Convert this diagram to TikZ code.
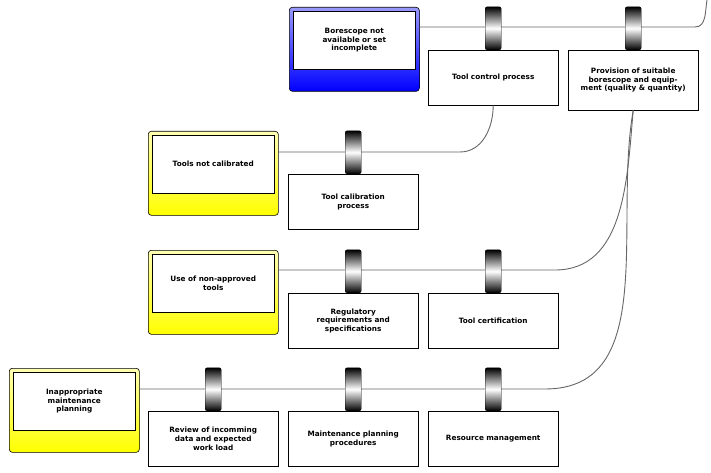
\documentclass[tikz,border=0pt]{standalone}
\usepackage{fontspec}
\setmainfont{DejaVu Sans}
\usetikzlibrary{positioning}

\begin{document}
\begin{tikzpicture}[
        x = 1pt, y = -1pt,
        font = \bfseries\fontsize{7.3}{8.6}\selectfont,
        threat/.style = {
            draw = black, rounded corners = 3pt, line width = 0.6pt,
            minimum width = 130pt, minimum height = 84pt,
            anchor = north west, inner sep = 0pt,
        },
        yellowthreat/.style = {threat, top color = yellow!30, bottom color = yellow},
        bluethreat/.style = {threat, top color = blue!40!white, bottom color = blue},
        label/.style = {
            draw, fill = white, align = center, text width = 112pt,
            minimum width = 122pt, minimum height = 58pt, inner sep = 1pt,
        },
        barrier/.style = {
            draw, fill = white, align = center, text width = 120pt,
            minimum width = 130pt, minimum height = 55pt,
            anchor = north west, inner sep = 1pt,
        },
        ring/.style = {
            draw, rounded corners = 2pt, minimum width = 16pt, minimum height = 43pt,
            top color = black, bottom color = black, middle color = white, inner sep = 0pt,
        },
        link/.style = {draw = gray!80!black, line width = 0.9pt},
        ]

        \useasboundingbox (0,0) rectangle (711,473);

        % Bedreigingen
        \node[bluethreat] (borescope) at (289,7) {};
        \node[label, below = 4pt of borescope.north] (borescope_txt) {Borescope not\\ available or set\\ incomplete};
        \node[yellowthreat] (calibrated) at (148,131) {};
        \node[label, below = 4pt of calibrated.north] (calibrated_txt) {Tools not calibrated};
        \node[yellowthreat] (nonapproved) at (148,250) {};
        \node[label, below = 4pt of nonapproved.north] (nonapproved_txt) {Use of non-approved\\ tools};
        \node[yellowthreat] (planning) at (9,368) {};
        \node[label, below = 4pt of planning.north] (planning_txt) {Inappropriate\\ maintenance\\ planning};

        % Barrieres
        \node[barrier] (toolcontrol) at (428,50) {Tool control process};
        \node[barrier, minimum height = 60pt] (provision) at (568,50) {Provision of suitable borescope and equipment (quality \& quantity)};
        \node[barrier] (toolcalib) at (288,174) {Tool calibration\\ process};
        \node[barrier] (regulatory) at (288,293) {Regulatory\\ requirements and\\ specifications};
        \node[barrier] (certification) at (428,293) {Tool certification};
        \node[barrier] (review) at (148,411) {Review of incomming\\ data and expected\\ work load};
        \node[barrier] (procedures) at (288,411) {Maintenance planning\\ procedures};
        \node[barrier] (resources) at (428,411) {Resource management};

        % Lijnen
        \coordinate (top_end) at (707,0);
        \path[link] (borescope.east |- 0,27) -- (695,27) to[out=0, in=-100] (top_end);
        \path[link] (calibrated.east |- 0,152) -- (460,152) to[out=0, in=-90] (toolcontrol.south);
        \path[link] (nonapproved.east |- 0,270) -- (555,270) to[out=0, in=-95] (provision.south);
        \path[link] (planning.east |- 0,389) -- (545,389) to[out=0, in=-100] (provision.south);

        % Ringen
        \node[ring, above = 0pt of toolcontrol.north] (ring_a) {};
        \node[ring, above = 0pt of provision.north] (ring_b) {};
        \node[ring, above = 0pt of toolcalib.north] (ring_c) {};
        \node[ring, above = 0pt of regulatory.north] (ring_d) {};
        \node[ring, above = 0pt of certification.north] (ring_e) {};
        \node[ring, above = 0pt of review.north] (ring_f) {};
        \node[ring, above = 0pt of procedures.north] (ring_g) {};
        \node[ring, above = 0pt of resources.north] (ring_h) {};
    \end{tikzpicture}
\end{document}
